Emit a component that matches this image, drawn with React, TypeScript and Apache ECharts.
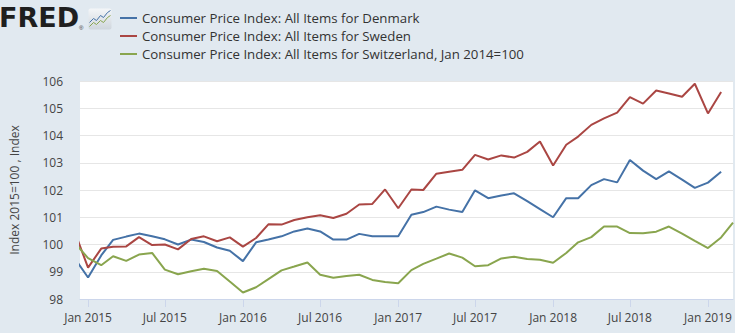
import React, { useEffect, useRef } from "react";
import * as echarts from "echarts";

// Monthly observations, Dec 2014 .. Mar 2019
const months: string[] = [
  "2014-12",
  "2015-01", "2015-02", "2015-03", "2015-04", "2015-05", "2015-06",
  "2015-07", "2015-08", "2015-09", "2015-10", "2015-11", "2015-12",
  "2016-01", "2016-02", "2016-03", "2016-04", "2016-05", "2016-06",
  "2016-07", "2016-08", "2016-09", "2016-10", "2016-11", "2016-12",
  "2017-01", "2017-02", "2017-03", "2017-04", "2017-05", "2017-06",
  "2017-07", "2017-08", "2017-09", "2017-10", "2017-11", "2017-12",
  "2018-01", "2018-02", "2018-03", "2018-04", "2018-05", "2018-06",
  "2018-07", "2018-08", "2018-09", "2018-10", "2018-11", "2018-12",
  "2019-01", "2019-02", "2019-03",
];

const denmark: (number | null)[] = [
  99.48,
  98.79, 99.6, 100.17, 100.29, 100.4, 100.3,
  100.19, 100.0, 100.18, 100.09, 99.89, 99.77,
  99.39, 100.08, 100.18, 100.3, 100.48, 100.59,
  100.48, 100.18, 100.18, 100.39, 100.3, 100.3,
  100.3, 101.09, 101.19, 101.39, 101.28, 101.19,
  101.99, 101.7, 101.8, 101.88, 101.59, 101.3,
  101.0, 101.7, 101.7, 102.18, 102.4, 102.28,
  103.1, 102.71, 102.4, 102.68, 102.38, 102.08,
  102.27, 102.67, null,
];

const sweden: (number | null)[] = [
  100.44,
  99.15, 99.85, 99.92, 99.93, 100.27, 99.98,
  100.0, 99.82, 100.2, 100.3, 100.12, 100.26,
  99.92, 100.24, 100.74, 100.73, 100.9, 101.0,
  101.07, 100.97, 101.13, 101.47, 101.49, 102.02,
  101.33, 102.02, 102.0, 102.6, 102.67, 102.74,
  103.29, 103.12, 103.27, 103.19, 103.4, 103.78,
  102.9, 103.66, 103.96, 104.39, 104.63, 104.84,
  105.41, 105.17, 105.65, 105.54, 105.42, 105.9,
  104.81, 105.6, null,
];

const switzerland: (number | null)[] = [
  100.05,
  99.5, 99.24, 99.57, 99.4, 99.63, 99.69,
  99.08, 98.91, 99.02, 99.11, 99.03, 98.64,
  98.24, 98.43, 98.73, 99.05, 99.19, 99.34,
  98.89, 98.78, 98.84, 98.89, 98.7, 98.62,
  98.58, 99.06, 99.29, 99.48, 99.67, 99.52,
  99.2, 99.24, 99.49, 99.55, 99.47, 99.44,
  99.33, 99.69, 100.08, 100.27, 100.66, 100.66,
  100.42, 100.41, 100.47, 100.66, 100.4, 100.13,
  99.87, 100.26, 100.8,
];

const seriesNames: string[] = [
  "Consumer Price Index: All Items for Denmark",
  "Consumer Price Index: All Items for Sweden",
  "Consumer Price Index: All Items for Switzerland, Jan 2014=100",
];

const tickDates: string[] = [
  "2015-01", "2015-07", "2016-01", "2016-07", "2017-01",
  "2017-07", "2018-01", "2018-07", "2019-01",
];

const monthNames: string[] = [
  "Jan", "Feb", "Mar", "Apr", "May", "Jun",
  "Jul", "Aug", "Sep", "Oct", "Nov", "Dec",
];

const yAxisTitle = "Index 2015=100 , Index";

function ts(ym: string, day = 1): number {
  const [y, m] = ym.split("-").map(Number);
  return Date.UTC(y, m - 1, day);
}

function toData(vals: (number | null)[]) {
  return months.map((m, i) => [ts(m), vals[i]]);
}

export default function App() {
  const ref = useRef<HTMLDivElement>(null);

  useEffect(() => {
    if (!ref.current) return;
    const chart = echarts.init(ref.current, null, { renderer: "svg" });
    const font = "'Open Sans', 'Noto Sans', sans-serif";
    const colors = ["#4572a7", "#aa4643", "#89a54e"];
    const tickVals = tickDates.map((d) => ts(d));

    chart.setOption({
      animation: false,
      backgroundColor: "#e1e9f0",
      color: colors,
      textStyle: { fontFamily: font },
      grid: {
        left: 73,
        top: 81,
        width: 660,
        height: 218,
        show: true,
        backgroundColor: "#ffffff",
        borderWidth: 0,
      },
      legend: {
        orient: "vertical",
        left: 120,
        top: 10,
        padding: 0,
        itemWidth: 17,
        itemHeight: 2,
        itemGap: 2,
        icon: "rect",
        data: seriesNames,
        textStyle: {
          fontFamily: font,
          fontSize: 13.25,
          color: "#333333",
          lineHeight: 16,
        },
      },
      xAxis: {
        type: "value",
        min: ts("2014-12", 13),
        max: ts("2019-03", 1),
        splitLine: { show: false },
        axisLine: { show: true, onZero: false, lineStyle: { color: "#ccd6eb", width: 1 } },
        axisTick: {
          show: true,
          length: 8,
          customValues: tickVals,
          lineStyle: { color: "#ccd6eb" },
        },
        axisLabel: {
          customValues: tickVals,
          margin: 12,
          fontSize: 12,
          color: "#444444",
          fontFamily: font,
          formatter: (v: number) => {
            const d = new Date(v);
            return monthNames[d.getUTCMonth()] + " " + d.getUTCFullYear();
          },
        },
      },
      yAxis: {
        type: "value",
        min: 98,
        max: 106,
        interval: 1,
        name: yAxisTitle,
        nameLocation: "middle",
        nameRotate: 90,
        nameGap: 60,
        nameTextStyle: { fontSize: 12, color: "#444444", fontFamily: font },
        axisLine: { show: false },
        axisTick: { show: false },
        axisLabel: { margin: 17, fontSize: 12, color: "#444444", fontFamily: font },
        splitLine: { show: true, lineStyle: { color: "#e6e6e6", width: 1 } },
      },
      graphic: [
        {
          type: "text",
          left: -1,
          top: 4,
          style: {
            text: "FRED",
            fontFamily: "'DejaVu Sans', sans-serif",
            fontWeight: "bold",
            fontSize: 27,
            fill: "#1f1f1f",
          },
        },
        {
          type: "text",
          left: 79,
          top: 25,
          style: { text: "®", fontSize: 6, fill: "#333333" },
        },
        {
          type: "group",
          left: 87,
          top: 8,
          children: [
            {
              type: "rect",
              shape: { x: 0, y: 0, width: 23, height: 21, r: 2 },
              style: {
                fill: new echarts.graphic.LinearGradient(0, 0, 0, 1, [
                  { offset: 0, color: "#f4f6f8" },
                  { offset: 1, color: "#cfd6dd" },
                ]),
              },
            },
            {
              type: "polyline",
              shape: {
                points: [[1, 14], [5, 10], [8, 12], [12, 7], [15, 9], [19, 4], [22, 2]],
              },
              style: { stroke: "#4572a7", lineWidth: 1, fill: null },
            },
            {
              type: "polyline",
              shape: {
                points: [[1, 18], [5, 14], [8, 16], [12, 12], [15, 14], [19, 9], [22, 7]],
              },
              style: { stroke: "#89a54e", lineWidth: 1, fill: null },
            },
          ],
        },
      ],
      series: [
        { name: seriesNames[0], data: toData(denmark) },
        { name: seriesNames[1], data: toData(sweden) },
        { name: seriesNames[2], data: toData(switzerland) },
      ].map((s, i) => ({
        ...s,
        type: "line",
        showSymbol: false,
        symbol: "none",
        connectNulls: false,
        clip: true,
        lineStyle: { width: 2, color: colors[i] },
        itemStyle: { color: colors[i] },
      })),
    });

    return () => chart.dispose();
  }, []);

  return (
    <div
      ref={ref}
      style={{ position: "fixed", left: 0, top: 0, width: 735, height: 333 }}
    />
  );
}
